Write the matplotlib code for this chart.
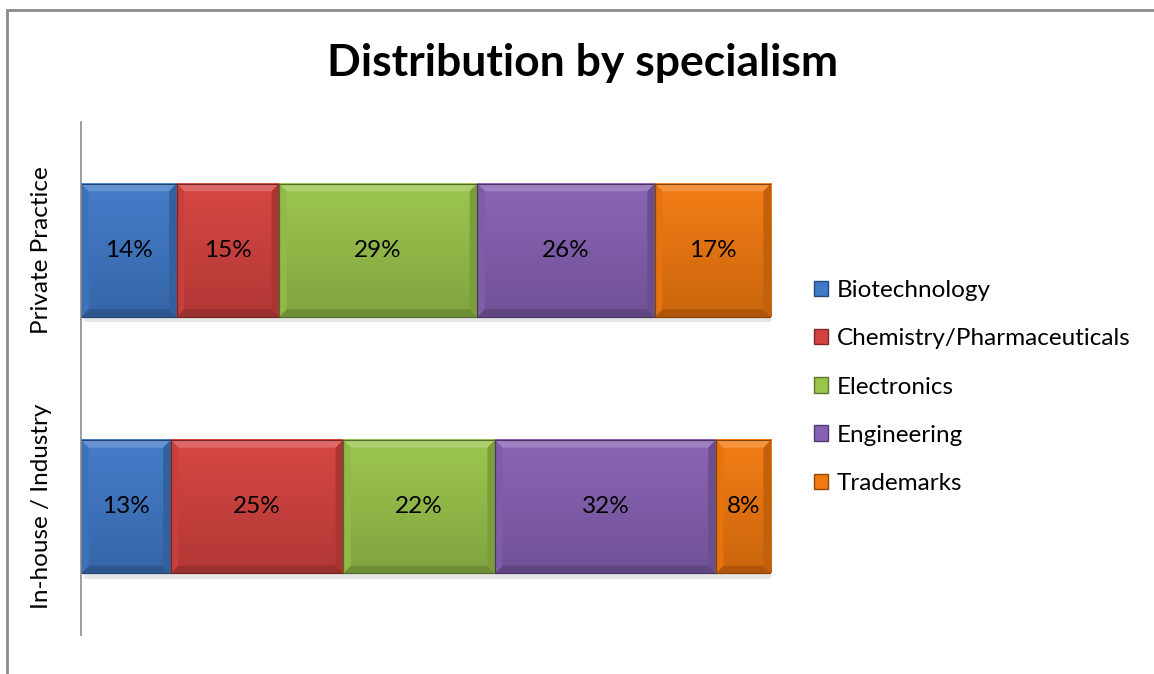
import numpy as np
import matplotlib
matplotlib.use('Agg')
import matplotlib.pyplot as plt
from matplotlib.patches import Polygon, Rectangle, Patch
from matplotlib.colors import LinearSegmentedColormap, to_rgb

plt.rcParams['font.family'] = ['Lato', 'DejaVu Sans']

# data
groups = ['In-house / Industry', 'Private Practice']
specialisms = ['Biotechnology', 'Chemistry/Pharmaceuticals', 'Electronics', 'Engineering', 'Trademarks']
inhouse = [13, 25, 22, 32, 8]
private = [14, 15, 29, 26, 17]
colors = ['#4079c8', '#d4423f', '#9ac44b', '#8661b3', '#f2790f']

values = np.array([inhouse, private], dtype=float)
shares = values / values.sum(axis=1, keepdims=True)


def shade(c, f):
    r, g, b = to_rgb(c)
    if f > 1:
        return tuple(x + (1 - x) * (f - 1) for x in (r, g, b))
    return (r * f, g * f, b * f)


fig = plt.figure(figsize=(11.54, 6.74), dpi=100)
ax = fig.add_axes([81 / 1154, 1 - 635 / 674, (771 - 81) / 1154, (635 - 122) / 674])

# grey frame around the chart area
fig.patches.append(Rectangle((7 / 1154, -0.1), 1.2, 1 - 10 / 674 + 0.1, transform=fig.transFigure,
                             fill=False, edgecolor='#8c8c8c', linewidth=2))

height = 0.52
ypos = np.arange(len(groups))
left = np.zeros(len(groups))
bx, by = 0.011, 0.03

for i, name in enumerate(specialisms):
    bars = ax.barh(ypos, shares[:, i], left=left, height=height, color=colors[i],
                   edgecolor=shade(colors[i], 0.6), linewidth=0.8, zorder=2)
    for j, rect in enumerate(bars):
        x0, y0 = rect.get_x(), rect.get_y()
        x1, y1 = x0 + rect.get_width(), y0 + rect.get_height()
        cmap = LinearSegmentedColormap.from_list('g', [shade(colors[i], 0.84), shade(colors[i], 1.03)])
        ax.imshow(np.linspace(0, 1, 50).reshape(-1, 1), extent=(x0, x1, y0, y1), origin='lower',
                  cmap=cmap, aspect='auto', zorder=2.1)
        # bevel edges
        ax.add_patch(Polygon([(x0, y1), (x1, y1), (x1 - bx, y1 - by), (x0 + bx, y1 - by)],
                             closed=True, facecolor=shade(colors[i], 1.2), edgecolor='none', zorder=2.2))
        ax.add_patch(Polygon([(x0, y0), (x1, y0), (x1 - bx, y0 + by), (x0 + bx, y0 + by)],
                             closed=True, facecolor=shade(colors[i], 0.72), edgecolor='none', zorder=2.2))
        ax.add_patch(Polygon([(x0, y0), (x0, y1), (x0 + bx, y1 - by), (x0 + bx, y0 + by)],
                             closed=True, facecolor=shade(colors[i], 0.95), edgecolor='none', zorder=2.2))
        ax.add_patch(Polygon([(x1, y0), (x1, y1), (x1 - bx, y1 - by), (x1 - bx, y0 + by)],
                             closed=True, facecolor=shade(colors[i], 0.8), edgecolor='none', zorder=2.2))
        ax.add_patch(Rectangle((x0, y0), x1 - x0, y1 - y0, fill=False,
                               edgecolor=shade(colors[i], 0.55), linewidth=0.8, zorder=2.3))
        # shadow
        ax.add_patch(Rectangle((x0 + 0.004, y0 - 0.02), x1 - x0, 0.02, facecolor='#e6e6e6',
                               edgecolor='none', zorder=1))
        ax.text((x0 + x1) / 2, (y0 + y1) / 2, '%d%%' % values[j, i], ha='center', va='center',
                fontsize=17.5, color='black', zorder=3)
    left += shares[:, i]

ax.set_xlim(0, 1)
ax.set_ylim(-0.5, 1.5)
ax.set_yticks(ypos)
ax.set_yticklabels(groups, rotation=90, va='center', fontsize=17.5)
ax.tick_params(axis='y', length=0, pad=21)
ax.set_xticks([])
for s in ['top', 'right', 'bottom']:
    ax.spines[s].set_visible(False)
ax.spines['left'].set_color('#8c8c8c')
ax.spines['left'].set_linewidth(1.2)

fig.text(583 / 1154, 1 - 63 / 674, 'Distribution by specialism', ha='center', va='center',
         fontsize=32, fontweight='bold')

handles = [Patch(facecolor=c, edgecolor=shade(c, 0.6)) for c in colors]
fig.legend(handles, specialisms, loc='center left', bbox_to_anchor=(792 / 1154, 1 - 387 / 674),
           frameon=False, fontsize=17.5, handlelength=0.6, handleheight=0.6, handletextpad=0.35,
           labelspacing=1.12)

fig.savefig('out.png', dpi=100)
